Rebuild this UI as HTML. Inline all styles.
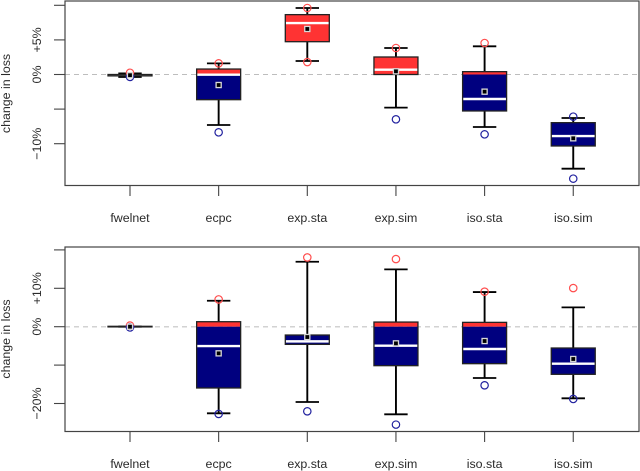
<!DOCTYPE html>
<html lang="en">
<head>
<meta charset="utf-8">
<title>Change in loss boxplots</title>
<style>
html,body{margin:0;padding:0;background:#fff;}
svg{display:block;font-family:"Liberation Sans",sans-serif;}
text{fill:#2a2a2a;font-size:12.4px;}
</style>
</head>
<body>
<svg id="chart" xmlns="http://www.w3.org/2000/svg" width="640" height="471" viewBox="0 0 640 471">
<text transform="translate(10,93.5) rotate(-90)" text-anchor="middle">change in loss</text>
<text transform="translate(10,339) rotate(-90)" text-anchor="middle">change in loss</text>
</svg>
<script>
const categories = ['fwelnet','ecpc','exp.sta','exp.sim','iso.sta','iso.sim'];

const topTickValues = [10,5,0,-5,-10];
const topTickLabels = ['','+5%','0%','','\u221210%'];
const topWhiskerHigh = [0.15,1.61,9.61,3.83,4.07,-6.29];
const topQ3 = [0.0,0.79,8.65,2.53,0.41,-6.96];
const topMedian = [-0.1,-0.02,7.44,0.70,-3.54,-8.89];
const topQ1 = [-0.2,-3.64,4.74,0.0,-5.27,-10.33];
const topWhiskerLow = [-0.35,-7.30,1.95,-4.79,-7.59,-13.61];
const topMean = [-0.1,-1.52,6.58,0.46,-2.48,-9.22];
const topPointHigh = [0.25,1.61,9.61,3.83,4.55,-6.09];
const topPointLow = [-0.35,-8.36,1.80,-6.48,-8.65,-15.05];

const bottomTickValues = [20,10,0,-10,-20];
const bottomTickLabels = ['','+10%','0%','','\u221220%'];
const bottomWhiskerHigh = [0.1,6.76,16.91,14.92,9.02,5.03];
const bottomQ3 = [0.1,1.30,-2.17,1.21,1.13,-5.55];
const bottomMedian = [0.0,-5.03,-3.82,-4.94,-5.81,-9.63];
const bottomQ1 = [-0.05,-15.96,-4.60,-10.15,-9.63,-12.40];
const bottomWhiskerLow = [-0.1,-22.55,-19.60,-22.81,-13.36,-18.65];
const bottomMean = [0.0,-6.94,-2.69,-4.34,-3.73,-8.41];
const bottomPointHigh = [0.3,7.11,18.04,17.61,9.11,10.06];
const bottomPointLow = [-0.2,-22.72,-22.03,-25.50,-15.26,-18.82];

const svg = document.getElementById('chart');
const NS = 'http://www.w3.org/2000/svg';

function make(tag, attrs, parent) {
  const el = document.createElementNS(NS, tag);
  for (const k in attrs) el.setAttribute(k, attrs[k]);
  (parent || svg).appendChild(el);
  return el;
}
function xScale(i) { return 130 + i * 88.65; }
function topY(v) { return 74.5 - v * 6.92; }
function bottomY(v) { return 326.7 - v * 3.84; }

function drawPanel(p) {
  const y = p.y;
  const g = make('g', {});
  
  

  const ref = make('line', {x1:65, x2:639, y1:y(0), y2:y(0), stroke:p.refColor, 'stroke-width':p.refWidth, 'stroke-dasharray':'5 4'}, g);
  
  

  categories.forEach(function (cat, i) {
    const cx = xScale(i);
    const group = make('g', {}, g);
    
    
    const hw = 22, cw = 11.7;
    const q3 = y(p.q3[i]), q1 = y(p.q1[i]), zero = y(0);
    make('line', {x1:cx, x2:cx, y1:y(p.wHigh[i]), y2:q3, stroke:'#000', 'stroke-width':1.9}, group);
    make('line', {x1:cx, x2:cx, y1:q1, y2:y(p.wLow[i]), stroke:'#000', 'stroke-width':1.9}, group);
    make('line', {x1:cx-cw, x2:cx+cw, y1:y(p.wHigh[i]), y2:y(p.wHigh[i]), stroke:'#000', 'stroke-width':1.8}, group);
    make('line', {x1:cx-cw, x2:cx+cw, y1:y(p.wLow[i]), y2:y(p.wLow[i]), stroke:'#000', 'stroke-width':1.8}, group);
    if (p.q3[i] > 0) {
      make('rect', {x:cx-hw, width:2*hw, y:q3, height:Math.min(q1, zero)-q3, fill:'#ff3333'}, group);
    }
    if (p.q1[i] < 0) {
      const t = Math.max(q3, zero);
      make('rect', {x:cx-hw, width:2*hw, y:t, height:q1-t, fill:'#00007f'}, group);
    }
    const med = y(p.median[i]);
    make('line', {x1:cx-hw, x2:cx+hw, y1:med, y2:med, stroke:'#fff', 'stroke-width':2.4}, group);
    make('rect', {x:cx-hw, width:2*hw, y:q3, height:q1-q3, fill:'none', stroke:'#222', 'stroke-width':1.3}, group);

    const hi = p.pHigh[i], lo = p.pLow[i];
    const c1 = make('circle', {cx:cx, cy:y(hi), r:3.7, fill:'none', stroke:hi > 0 ? '#ff4d4d' : '#22229f', 'stroke-width':1.2}, group);
    
    
    const c2 = make('circle', {cx:cx, cy:y(lo), r:3.7, fill:'none', stroke:lo > 0 ? '#ff4d4d' : '#22229f', 'stroke-width':1.2}, group);
    
    

    const m = y(p.mean[i]);
    make('rect', {x:cx-3.2, y:m-3.2, width:6.4, height:6.4, fill:'#d8d8d8'}, group);
    const mk = make('rect', {x:cx-1.9, y:m-1.9, width:3.8, height:3.8, fill:'#000'}, group);
    
    

    make('line', {x1:cx, x2:cx, y1:p.bottom, y2:p.bottom+10.5, stroke:'#444', 'stroke-width':1.1}, g);
    const lab = make('text', {x:cx, y:p.bottom+36.5, 'text-anchor':'middle'}, g);
    lab.textContent = cat;
    
    
  });

  p.ticks.forEach(function (v, i) {
    make('line', {x1:54, x2:65, y1:y(v), y2:y(v), stroke:'#444', 'stroke-width':1.1}, g);
    if (p.tickLabels[i]) {
      const t = make('text', {transform:'translate(41,' + y(v) + ') rotate(-90)', 'text-anchor':'middle'}, g);
      t.textContent = p.tickLabels[i];
      
      
    }
  });

  const frame = make('rect', {x:65, y:p.top, width:574, height:p.bottom-p.top, fill:'none', stroke:'#444', 'stroke-width':1.2}, g);
  
  
}

drawPanel({name:'top', y:topY, top:1, bottom:185.5, ticks:topTickValues, tickLabels:topTickLabels,
  wHigh:topWhiskerHigh, q3:topQ3, median:topMedian, q1:topQ1, wLow:topWhiskerLow, mean:topMean,
  pHigh:topPointHigh, pLow:topPointLow, refColor:'#bdbdbd', refWidth:1});
drawPanel({name:'bottom', y:bottomY, top:247, bottom:431.5, ticks:bottomTickValues, tickLabels:bottomTickLabels,
  wHigh:bottomWhiskerHigh, q3:bottomQ3, median:bottomMedian, q1:bottomQ1, wLow:bottomWhiskerLow, mean:bottomMean,
  pHigh:bottomPointHigh, pLow:bottomPointLow, refColor:'#d2d2d2', refWidth:1.5});
</script>
</body>
</html>
